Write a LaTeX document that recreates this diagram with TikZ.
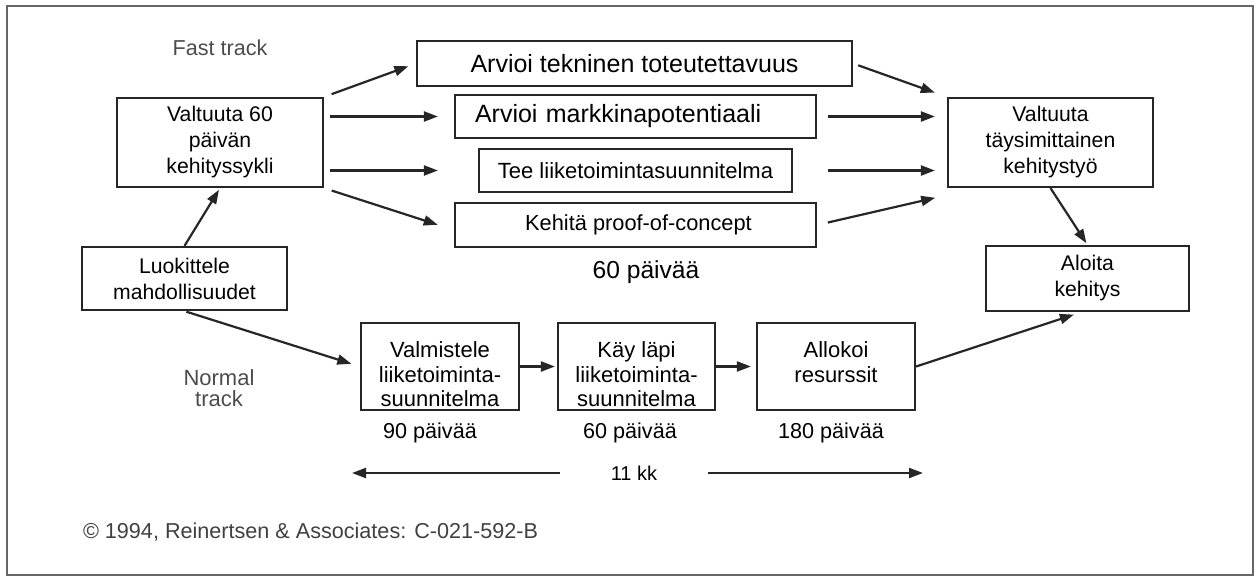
\documentclass[tikz,border=0pt]{standalone}
\usepackage{fontspec}
\setmainfont{Liberation Sans}
\usetikzlibrary{arrows.meta}

% lower box text, set a little below the box centre
\newcommand{\lowlines}[1]{\raisebox{-5.5pt}[\height][\depth]{%
  \begin{tabular}{@{}c@{}}#1\end{tabular}}}

\begin{document}
\begin{tikzpicture}[x=0.5pt,y=-0.5pt,
  font=\fontsize{10.6}{13}\selectfont,
  box/.style={draw=black!85,line width=1.1pt,align=center,inner sep=2pt},
  lowbox/.style={box,minimum width=79pt,minimum height=43.5pt,
    font=\fontsize{11}{12.2}\selectfont},
  arr/.style={draw=black!85,line width=1.1pt,-{Triangle[length=7pt,width=5pt]}},
  note/.style={text=black!70,align=center},
  days/.style={font=\fontsize{10.8}{12}\selectfont}]
  \useasboundingbox (0,0) rectangle (1260,578);

  % Frame
  \draw[black!60,line width=1.3pt] (7,6) rectangle (1253,575);

  % Left boxes
  \node[note,font=\fontsize{10.8}{12}\selectfont] (fast) at (220,48) {Fast track};
  \node[box,minimum width=103pt,minimum height=44.5pt] (v60) at (220,142.5)
    {Valtuuta 60\\päivän\\kehityssykli};
  \node[box,minimum width=102.5pt,minimum height=31.5pt] (luok) at (184.5,278.5)
    {Luokittele\\mahdollisuudet};

  % Fast track activities
  \node[box,minimum width=217.5pt,minimum height=22.5pt,
    font=\fontsize{12.5}{14}\selectfont] (tek) at (634.5,63.5)
    {Arvioi tekninen toteutettavuus};
  \node[box,minimum width=180.5pt,minimum height=21.5pt,text width=160.5pt,
    inner xsep=10pt,align=left,font=\fontsize{12.5}{14}\selectfont] (mark) at (635.5,116.5)
    {Arvioi markkinapotentiaali};
  \node[box,minimum width=156.5pt,minimum height=21.5pt,
    font=\fontsize{11}{13}\selectfont] (tee) at (635.5,170.5)
    {Tee liiketoimintasuunnitelma};
  \node[box,minimum width=180.5pt,minimum height=22pt,
    font=\fontsize{10.9}{13}\selectfont] (keh) at (635.5,225)
    {\hspace*{3pt}Kehitä proof-of-concept};
  \node[font=\fontsize{12.3}{14}\selectfont] (d60) at (646,272) {60 päivää};

  % Right boxes
  \node[box,minimum width=102.5pt,minimum height=44.5pt] (vtm) at (1050.5,142.5)
    {Valtuuta\\täysimittainen\\kehitystyö};
  \node[box,minimum width=101.5pt,minimum height=32.5pt] (alo) at (1087.5,278.5)
    {Aloita\\kehitys};

  % Normal track
  \node[note,font=\fontsize{11}{10.5}\selectfont] (normal) at (219,388) {Normal\\track};
  \node[lowbox] (valm) at (440,366.5) {\lowlines{Valmistele\\liiketoiminta-\\suunnitelma}};
  \node[lowbox,minimum width=78.5pt] (kay) at (636.5,366.5)
    {\lowlines{Käy läpi\\liiketoiminta-\\suunnitelma}};
  \node[lowbox] (allo) at (836,366.5) {\lowlines{Allokoi\\resurssit\\\mbox{}}};
  \node[days] (d90) at (430,433) {90 päivää};
  \node[days] (d60b) at (630,433) {60 päivää};
  \node[days] (d180) at (831,433) {180 päivää};

  % Total duration
  \node[minimum width=74pt,font=\fontsize{10}{11}\selectfont] (kk) at (634,473) {11 kk};
  \coordinate (kkL) at (352,473);
  \coordinate (kkR) at (923,473);
  \draw[arr] (kk.west) -- (kkL);
  \draw[arr] (kk.east) -- (kkR);

  % Copyright
  \node[anchor=west,text=black!75,font=\fontsize{10.8}{12}\selectfont] (copy) at (76,532)
    {© 1994, Reinertsen \& Associates: C-021-592-B};

  % Connectors
  \draw[arr,shorten >=1pt] (luok.north) -- (v60.south);
  \draw[arr,shorten <=4pt,shorten >=4pt] (v60.north east) -- (tek.west);
  \draw[arr,shorten <=3pt,shorten >=8pt] (v60.east |- mark.west) -- (mark.west);
  \draw[arr,shorten <=3pt,shorten >=20pt] (v60.east |- tee.west) -- (tee.west);
  \draw[arr,shorten <=4pt,shorten >=8.5pt] (v60.south east) -- ([yshift=-2.5pt]keh.west);
  \draw[arr,shorten <=2.7pt,shorten >=6.4pt] (tek.east) -- (vtm.north west);
  \draw[arr,shorten <=5.5pt,shorten >=6pt] (mark.east) -- (vtm.west |- mark.east);
  \draw[arr,shorten <=17.5pt,shorten >=6pt] (tee.east) -- (vtm.west |- tee.east);
  \draw[arr,shorten <=5.5pt,shorten >=6pt] (keh.east) -- ([yshift=-3.5pt]vtm.south west);
  \draw[arr,shorten >=1pt] (vtm.south) -- (alo.north);
  \draw[arr,shorten <=1pt,shorten >=4.5pt] (luok.south) -- (valm.west);
  \draw[arr,shorten >=1pt] (valm.east) -- (kay.west);
  \draw[arr,shorten >=2.5pt] (kay.east) -- (allo.west);
  \draw[arr,shorten >=4pt] (allo.east) -- ([xshift=-3pt]alo.south);
\end{tikzpicture}
\end{document}
